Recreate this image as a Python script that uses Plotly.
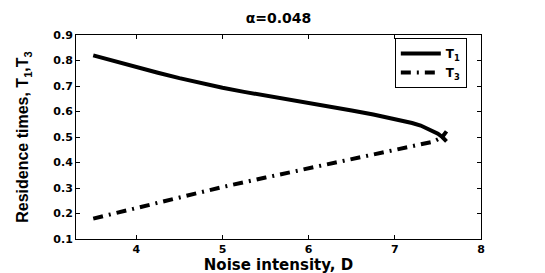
import plotly.graph_objects as go

D1 = [3.5, 3.75, 4.0, 4.25, 4.5, 4.75, 5.0, 5.25, 5.5, 5.75, 6.0, 6.25, 6.5, 6.75, 7.0, 7.1, 7.2, 7.3, 7.4, 7.5, 7.55, 7.6]
T1 = [0.820, 0.796, 0.774, 0.752, 0.731, 0.711, 0.693, 0.677, 0.663, 0.648, 0.634, 0.619, 0.604, 0.588, 0.571, 0.564, 0.555, 0.545, 0.531, 0.513, 0.500, 0.483]
D3 = [3.5, 4.0, 4.5, 5.0, 5.5, 6.0, 6.5, 7.0, 7.3, 7.45, 7.55, 7.6]
T3 = [0.180, 0.222, 0.263, 0.304, 0.341, 0.377, 0.413, 0.449, 0.470, 0.482, 0.500, 0.522]

x_ticks = [4, 5, 6, 7, 8]
y_ticks = [0.1, 0.2, 0.3, 0.4, 0.5, 0.6, 0.7, 0.8, 0.9]

fig = go.Figure()
fig.add_trace(go.Scatter(x=D1, y=T1, mode="lines", name="<b>T<sub>1</sub></b>",
                         line=dict(color="black", width=4)))
fig.add_trace(go.Scatter(x=D3, y=T3, mode="lines", name="<b>T<sub>3</sub></b>",
                         line=dict(color="black", width=4, dash="10px,6px,2px,6px")))

font = "Liberation Sans, Arial, sans-serif"
tf = dict(family="DejaVu Sans, sans-serif", size=11, color="black")
fig.update_layout(
    width=545, height=273,
    paper_bgcolor="white", plot_bgcolor="white",
    margin=dict(l=68, r=72, t=27, b=34),
    title=dict(text="<b>α=0.048</b>", x=0.5, xref="paper", y=0.98, yanchor="top",
               font=dict(family="DejaVu Sans, sans-serif", size=14, color="black")),
    font=dict(family=font, color="black"),
    showlegend=True,
    legend=dict(x=0.965, y=0.985, xanchor="right", yanchor="top",
                bordercolor="black", borderwidth=1, bgcolor="white",
                font=dict(family="DejaVu Sans, sans-serif", size=12, color="black"),
                tracegroupgap=0, itemwidth=40),
    xaxis=dict(range=[3.3, 8], tickvals=x_ticks,
               ticktext=["<b>%d</b>" % v for v in x_ticks],
               ticks="inside", ticklen=4, tickcolor="black", mirror="ticks",
               showline=True, linecolor="black", linewidth=1, showgrid=False, zeroline=False,
               tickfont=tf,
               title=dict(text="<b>Noise intensity, D</b>", standoff=2,
                          font=dict(family="DejaVu Sans, sans-serif", size=15, color="black"))),
    yaxis=dict(range=[0.1, 0.9], tickvals=y_ticks,
               ticktext=["<b>%.1f</b>" % v for v in y_ticks],
               ticks="inside", ticklen=4, tickcolor="black", mirror="ticks",
               showline=True, linecolor="black", linewidth=1, showgrid=False, zeroline=False,
               tickfont=tf,
               title=dict(text="<b>Residence times, T<sub>1</sub>,T<sub>3</sub></b>", standoff=20,
                          font=dict(family="Liberation Sans Narrow, Arial Narrow, sans-serif",
                                    size=16, color="black"))),
)
fig.write_html("out.html")
